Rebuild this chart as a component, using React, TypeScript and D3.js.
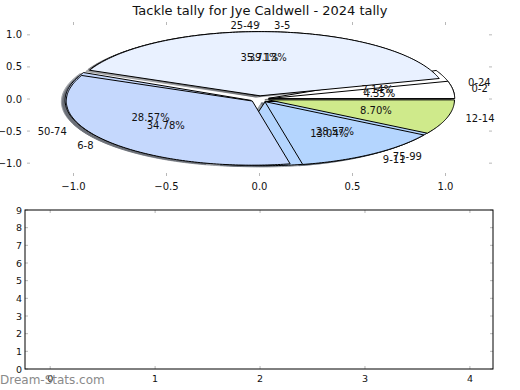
import React from "react";
import * as d3 from "d3";

const title = "Tackle tally for Jye Caldwell - 2024 tally";
const rangeLabels = ["0-24", "25-49", "50-74", "75-99"];
const rangeValues = [1, 5, 4, 4];
const tallyLabels = ["0-2", "3-5", "6-8", "9-11", "12-14"];
const tallyValues = [1, 9, 8, 3, 2];
const tallyColors = ["#ffffff", "#e9f1ff", "#c5d8fd", "#b4d5fe", "#cfea8b"];
const rangeColors = ["#ffffff", "#e9f1ff", "#c5d8fd", "#b4d5fe"];
const pieTicks = [-1.0, -0.5, 0.0, 0.5, 1.0];
const barXTicks = [0, 1, 2, 3, 4];
const barYTicks = [0, 1, 2, 3, 4, 5, 6, 7, 8, 9];
const watermark = "Dream-Stats.com";

const W = 520;
const H = 390;
const FONT = "DejaVu Sans, sans-serif";
const EXPLODE = 0.05;

// top (pie) axes
const top = { l: 27, r: 492, t: 22, b: 176 };
const px = d3.scaleLinear().domain([-1.25, 1.25]).range([top.l, top.r]);
const py = d3.scaleLinear().domain([-1.2, 1.2]).range([top.b, top.t]);
// bottom axes
const bot = { l: 25, r: 493, t: 210, b: 369 };
const bx = d3.scaleLinear().domain([-0.24, 4.22]).range([bot.l, bot.r]);
const by = d3.scaleLinear().domain([0, 9]).range([bot.b, bot.t]);

type Wedge = {
  label: string;
  value: number;
  pct: number;
  a0: number;
  a1: number;
  mid: number;
  cx: number;
  cy: number;
  color: string;
};

function makeWedges(labels: string[], values: number[], colors: string[]): Wedge[] {
  const total = d3.sum(values);
  const arcs = d3
    .pie<number>()
    .sort(null)
    .startAngle(0)
    .endAngle(2 * Math.PI)(values);
  return arcs.map((a, i) => {
    const mid = (a.startAngle + a.endAngle) / 2;
    return {
      label: labels[i],
      value: values[i],
      pct: (values[i] / total) * 100,
      a0: a.startAngle,
      a1: a.endAngle,
      mid,
      cx: EXPLODE * Math.cos(mid),
      cy: EXPLODE * Math.sin(mid),
      color: colors[i],
    };
  });
}

function wedgePath(w: Wedge, dx = 0, dy = 0): string {
  const n = Math.max(4, Math.ceil(((w.a1 - w.a0) * 180) / Math.PI));
  const pts: [number, number][] = [[w.cx + dx, w.cy + dy]];
  for (let k = 0; k <= n; k++) {
    const t = w.a0 + ((w.a1 - w.a0) * k) / n;
    pts.push([w.cx + dx + Math.cos(t), w.cy + dy + Math.sin(t)]);
  }
  const line = d3
    .line<[number, number]>()
    .x((d) => px(d[0]))
    .y((d) => py(d[1]));
  return (line(pts) || "") + "Z";
}

function darken(c: string): string {
  const rgb = d3.rgb(c);
  return d3.rgb(rgb.r * 0.3, rgb.g * 0.3, rgb.b * 0.3).formatHex();
}

const pieA = makeWedges(rangeLabels, rangeValues, rangeColors);
const pieB = makeWedges(tallyLabels, tallyValues, tallyColors);

function PieTexts({ wedges }: { wedges: Wedge[] }) {
  return (
    <g>
      {wedges.map((w, i) => {
        const xt = w.cx + 1.1 * Math.cos(w.mid);
        const yt = w.cy + 1.1 * Math.sin(w.mid);
        const xp = w.cx + 0.6 * Math.cos(w.mid);
        const yp = w.cy + 0.6 * Math.sin(w.mid);
        return (
          <g key={i}>
            <text
              x={px(xt)}
              y={py(yt)}
              textAnchor={xt > 0.001 ? "start" : "end"}
              dominantBaseline="central"
              fontSize={10}
              fill="#111"
            >
              {w.label}
            </text>
            <text
              x={px(xp)}
              y={py(yp)}
              textAnchor="middle"
              dominantBaseline="central"
              fontSize={10}
              fill="#111"
            >
              {w.pct.toFixed(2) + "%"}
            </text>
          </g>
        );
      })}
    </g>
  );
}

export default function App() {
  const tickColor = "#b8b8b8";
  return (
    <svg
      width={W}
      height={H}
      style={{ position: "absolute", left: 0, top: 0, background: "#fff" }}
      fontFamily={FONT}
    >
      <rect x={0} y={0} width={W} height={H} fill="#fff" />
      <text x={260} y={10} textAnchor="middle" dominantBaseline="central" fontSize={13} fill="#111">
        {title}
      </text>

      {/* pie axes ticks (no spines) */}
      <g>
        {pieTicks.map((t, i) => (
          <g key={"px" + i}>
            <line x1={px(t)} x2={px(t)} y1={top.b} y2={top.b - 3} stroke={tickColor} strokeWidth={1} />
            <line x1={px(t)} x2={px(t)} y1={top.t} y2={top.t + 3} stroke={tickColor} strokeWidth={1} />
            <text x={px(t)} y={top.b + 10} textAnchor="middle" dominantBaseline="central" fontSize={10} fill="#111">
              {t < 0 ? "\u2212" + Math.abs(t).toFixed(1) : t.toFixed(1)}
            </text>
          </g>
        ))}
        {pieTicks.map((t, i) => (
          <g key={"py" + i}>
            <line x1={top.l} x2={top.l + 3} y1={py(t)} y2={py(t)} stroke={tickColor} strokeWidth={1} />
            <line x1={top.r} x2={top.r - 3} y1={py(t)} y2={py(t)} stroke={tickColor} strokeWidth={1} />
            <text x={top.l - 5} y={py(t)} textAnchor="end" dominantBaseline="central" fontSize={10} fill="#111">
              {t < 0 ? "\u2212" + Math.abs(t).toFixed(1) : t.toFixed(1)}
            </text>
          </g>
        ))}
      </g>

      {/* shadows (beneath all wedges) */}
      <g>
        {[...pieA, ...pieB].map((w, i) => (
          <path
            key={"s" + i}
            d={wedgePath(w, -0.02, -0.02)}
            fill={darken(w.color)}
            stroke={darken(w.color)}
            strokeWidth={1}
            opacity={0.5}
          />
        ))}
      </g>
      {/* pie A */}
      <g>
        {pieA.map((w, i) => (
          <path key={"a" + i} d={wedgePath(w)} fill={w.color} stroke="#000" strokeWidth={1} strokeLinejoin="round" />
        ))}
      </g>
      {/* pie B */}
      <g>
        {pieB.map((w, i) => (
          <path key={"b" + i} d={wedgePath(w)} fill={w.color} stroke="#000" strokeWidth={1} strokeLinejoin="round" />
        ))}
      </g>
      <PieTexts wedges={pieA} />
      <PieTexts wedges={pieB} />

      {/* bottom axes */}
      <g>
        {barXTicks.map((t, i) => (
          <g key={"bx" + i}>
            <line x1={bx(t)} x2={bx(t)} y1={bot.b} y2={bot.b - 3} stroke={tickColor} strokeWidth={1} />
            <line x1={bx(t)} x2={bx(t)} y1={bot.t} y2={bot.t + 3} stroke={tickColor} strokeWidth={1} />
            <text x={bx(t)} y={bot.b + 9} textAnchor="middle" dominantBaseline="central" fontSize={9.5} fill="#111">
              {String(t)}
            </text>
          </g>
        ))}
        {barYTicks.map((t, i) => (
          <g key={"by" + i}>
            <line x1={bot.l} x2={bot.l + 3} y1={by(t)} y2={by(t)} stroke={tickColor} strokeWidth={1} />
            <line x1={bot.r} x2={bot.r - 3} y1={by(t)} y2={by(t)} stroke={tickColor} strokeWidth={1} />
            <text x={bot.l - 3} y={by(t)} textAnchor="end" dominantBaseline="central" fontSize={9.5} fill="#111">
              {String(t)}
            </text>
          </g>
        ))}
        <rect
          x={bot.l}
          y={bot.t}
          width={bot.r - bot.l}
          height={bot.b - bot.t}
          fill="none"
          stroke="#000"
          strokeWidth={1}
        />
      </g>

      <text x={0} y={380} dominantBaseline="central" fontSize={12} fill="#8a8a8a">
        {watermark}
      </text>
    </svg>
  );
}
